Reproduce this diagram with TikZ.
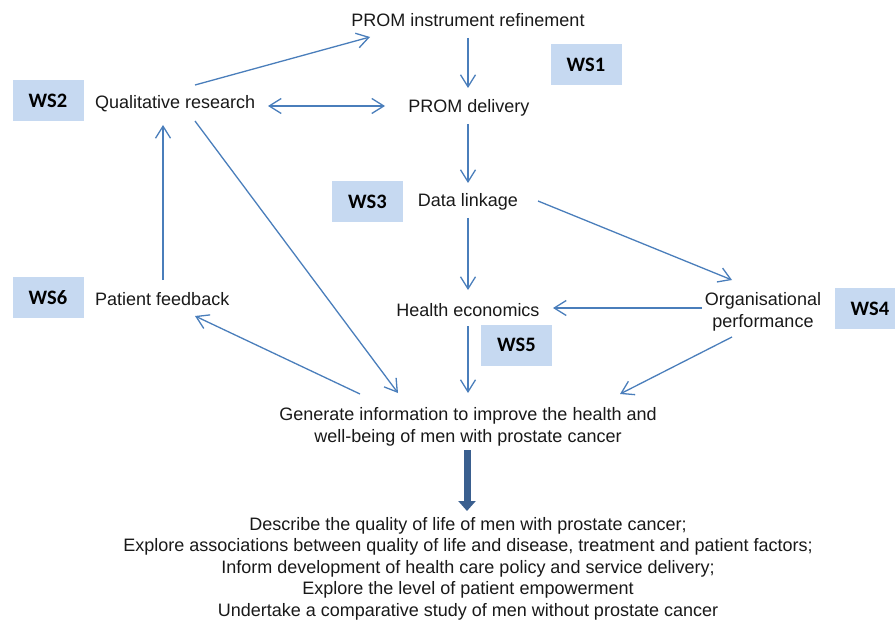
\documentclass[tikz,border=0pt]{standalone}
\usepackage{fontspec}
\setmainfont{Liberation Sans}
\newfontfamily\wsfont{Carlito}
\usetikzlibrary{arrows.meta,calc}
\definecolor{arrblue}{HTML}{4A7EBB}
\definecolor{wsfill}{HTML}{C6D9F1}
\definecolor{thickblue}{HTML}{3A5F8F}
\begin{document}
\begin{tikzpicture}[x=1pt,y=-1pt,
  lbl/.style={inner sep=0pt,font=\fontsize{18}{22}\selectfont,text=black!90},
  wsbox/.style={fill=wsfill,minimum width=71pt,minimum height=41pt,inner sep=0pt,
    font=\wsfont\bfseries\fontsize{20.5}{24}\selectfont},
  arr/.style={draw=arrblue,line width=1.3pt,-{Straight Barb[length=12pt,width=15pt,line width=1.3pt]}},
  darr/.style={draw=arrblue,line width=1.3pt,{Straight Barb[length=12pt,width=15pt,line width=1.3pt]}-{Straight Barb[length=12pt,width=15pt,line width=1.3pt]}},
  bigarr/.style={draw=thickblue,line width=7pt,-{Triangle[length=10pt,width=17pt]}}]
\useasboundingbox (0,0) rectangle (895,623);
\clip (0,0) rectangle (895,623);
% WS boxes
\node[wsbox] (ws1) at (586,65) {WS1};
\node[wsbox] (ws2) at (48,100.5) {WS2};
\node[wsbox] (ws3) at (367.5,201.5) {WS3};
\node[wsbox] (ws4) at (870,308.5) {WS4};
\node[wsbox] (ws5) at (516.5,345.3) {WS5};
\node[wsbox] (ws6) at (48,297.5) {WS6};
% text nodes
\node[lbl,anchor=base] (pir) at (468,27) {PROM instrument refinement};
\node[lbl,anchor=base west] (qr) at (95,109) {Qualitative research};
\node[lbl,anchor=base] (pd) at (469,113) {PROM delivery};
\node[lbl,anchor=base] (dl) at (468,207) {Data linkage};
\node[lbl,anchor=base west] (pf) at (95,305) {Patient feedback};
\node[lbl,anchor=base] (he) at (468,316) {Health economics};
\node[lbl,align=center] (org) at (763,311.4) {Organisational\\performance};
\node[lbl,align=center] (gen) at (468,426.4) {Generate information to improve the health and\\well-being of men with prostate cancer};
\node[lbl,align=center,font=\fontsize{18}{21.5}\selectfont] (out) at (468,568.4) {Describe the quality of life of men with prostate cancer;\\Explore associations between quality of life and disease, treatment and patient factors;\\Inform development of health care policy and service delivery;\\Explore the level of patient empowerment\\Undertake a comparative study of men without prostate cancer};
% connectors
\draw[arr] ([shift={(100,-24)}]qr.base west) -- ([shift={(-98,10)}]pir.base);
\draw[arr] ([shift={(0,11)}]pir.base) -- ([shift={(-1,-25)}]pd.base);
\draw[darr] ([shift={(173,-3)}]qr.base west) -- ([shift={(-84,-7)}]pd.base);
\draw[arr] ([shift={(-1,11)}]pd.base) -- ([shift={(0,-24)}]dl.base);
\draw[arr] ([shift={(0,11)}]dl.base) -- ([shift={(0,-26)}]he.base);
\draw[arr] ([shift={(70,-6)}]dl.base) -- ([shift={(-31,-31.4)}]org.center);
\draw[arr] ([shift={(-61,-3.4)}]org.center) -- ([shift={(85,-8)}]he.base);
\draw[arr] ([shift={(0,10)}]he.base) -- ([shift={(0,-33.4)}]gen.center);
\draw[arr] ([shift={(-31,25.6)}]org.center) -- ([shift={(152,-32.4)}]gen.center);
\draw[arr] ([shift={(100,12)}]qr.base west) -- ([shift={(-70,-33.4)}]gen.center);
\draw[arr] ([shift={(-108,-32.4)}]gen.center) -- ([shift={(100,11)}]pf.base west);
\draw[arr] ([shift={(68,-25)}]pf.base west) -- ([shift={(68,16)}]qr.base west);
\draw[bigarr] ([shift={(-1,23.6)}]gen.center) -- ([shift={(-1,-57.4)}]out.center);
\end{tikzpicture}
\end{document}
